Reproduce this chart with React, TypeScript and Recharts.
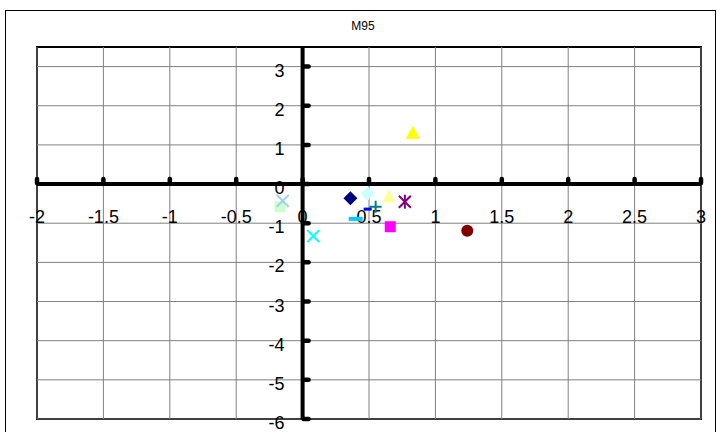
import React from "react"
import { ScatterChart, Scatter, XAxis, YAxis, ReferenceLine, ReferenceArea } from "recharts"

// Axis ticks
const xTicks = [-2, -1.5, -1, -0.5, 0, 0.5, 1, 1.5, 2, 2.5, 3]
const yTicks = [-6, -5, -4, -3, -2, -1, 0, 1, 2, 3]

// 13 series, one point each
const seriesNames = ["S1", "S2", "S3", "S4", "S5", "S6", "S7", "S8", "S9", "S10", "S11", "S12", "S13"]
const seriesX = [0.36, 0.66, 0.83, 0.08, 0.77, 1.24, 0.55, 0.49, 0.4, 0.49, -0.17, 0.65, -0.15]
const seriesY = [-0.36, -1.09, 1.31, -1.33, -0.45, -1.19, -0.58, -0.64, -0.89, -0.24, -0.58, -0.31, -0.43]

// Excel-ish default marker styles
const markerColors = ["#000080", "#FF00FF", "#FFFF00", "#00FFFF", "#800080", "#800000", "#008080", "#0000FF", "#00CCFF", "#CCFFFF", "#CCFFCC", "#FFFF99", "#99CCFF"]
const markerKinds = ["diamond", "square", "triangle", "x", "star", "circle", "plus", "shortdash", "dash", "diamond", "square", "triangle", "x"]

const FONT = "'Liberation Sans', Arial, sans-serif"

function Marker({ cx, cy, kind, color }: { cx: number; cy: number; kind: string; color: string }) {
  switch (kind) {
    case "diamond":
      return <polygon points={`${cx},${cy - 7} ${cx + 7},${cy} ${cx},${cy + 7} ${cx - 7},${cy}`} fill={color} />
    case "square":
      return <rect x={cx - 5.5} y={cy - 5.5} width={11} height={11} fill={color} />
    case "triangle":
      return <polygon points={`${cx},${cy - 7} ${cx + 7},${cy + 6} ${cx - 7},${cy + 6}`} fill={color} />
    case "x":
      return (
        <g stroke={color} strokeWidth={2}>
          <line x1={cx - 6} y1={cy - 6} x2={cx + 6} y2={cy + 6} />
          <line x1={cx - 6} y1={cy + 6} x2={cx + 6} y2={cy - 6} />
        </g>
      )
    case "star":
      return (
        <g stroke={color} strokeWidth={2}>
          <line x1={cx - 6} y1={cy - 6} x2={cx + 6} y2={cy + 6} />
          <line x1={cx - 6} y1={cy + 6} x2={cx + 6} y2={cy - 6} />
          <line x1={cx} y1={cy - 7} x2={cx} y2={cy + 7} />
        </g>
      )
    case "circle":
      return <circle cx={cx} cy={cy} r={6} fill={color} />
    case "plus":
      return (
        <g stroke={color} strokeWidth={2}>
          <line x1={cx - 6} y1={cy} x2={cx + 6} y2={cy} />
          <line x1={cx} y1={cy - 6} x2={cx} y2={cy + 6} />
        </g>
      )
    case "shortdash":
      return <rect x={cx - 4} y={cy - 1.5} width={8} height={3} fill={color} />
    case "dash":
      return <rect x={cx - 7} y={cy - 2} width={14} height={4} fill={color} />
    default:
      return null
  }
}

const fmt = (v: number) => String(v)

// tick marks + labels sitting on the zero axes
const XTickMark = (props: any) => {
  const { cx, cy, payload } = props
  return (
    <g>
      <line x1={cx} y1={cy - 1} x2={cx} y2={cy - 5} stroke="#000" strokeWidth={4.5} strokeLinecap="round" />
      <text x={cx} y={cy + 39} textAnchor="middle" fontSize={18} fontFamily={FONT} fill="#000">
        {fmt(payload.x)}
      </text>
    </g>
  )
}

const YTickMark = (props: any) => {
  const { cx, cy, payload } = props
  return (
    <g>
      <line x1={cx + 1} y1={cy} x2={cx + 6} y2={cy} stroke="#000" strokeWidth={4.5} strokeLinecap="round" />
      <text x={cx - 18} y={cy + 10} textAnchor="end" fontSize={18} fontFamily={FONT} fill="#000">
        {fmt(payload.y)}
      </text>
    </g>
  )
}

export default function App() {
  const xTickPts = xTicks.map((v) => ({ x: v, y: 0 }))
  const yTickPts = yTicks.map((v) => ({ x: 0, y: v }))

  return (
    <div style={{ position: "absolute", left: 0, top: 0, width: 720, height: 432, overflow: "hidden", background: "#fff" }}>
      <div style={{ position: "absolute", left: 5, top: 10, width: 711, height: 440, border: "1px solid #000", boxSizing: "border-box" }} />
      <div
        style={{
          position: "absolute",
          left: 313,
          top: 19,
          width: 100,
          textAlign: "center",
          fontFamily: FONT,
          fontSize: 12,
          lineHeight: "14px",
        }}
      >
        M95
      </div>
      <div style={{ position: "absolute", left: 0, top: 0 }}>
        <ScatterChart width={720} height={432} margin={{ top: 47, right: 19, bottom: 13, left: 37 }}>
          <XAxis
            type="number"
            dataKey="x"
            domain={[-2, 3]}
            ticks={xTicks}
            tick={false}
            tickLine={false}
            axisLine={false}
            height={0}
          />
          <YAxis
            type="number"
            dataKey="y"
            domain={[-6, 3.5]}
            ticks={yTicks}
            tick={false}
            tickLine={false}
            axisLine={false}
            width={0}
          />
          {xTicks.map((v) => (
            <ReferenceLine key={`gx${v}`} x={v} stroke="#808080" strokeWidth={1} />
          ))}
          {yTicks.map((v) => (
            <ReferenceLine key={`gy${v}`} y={v} stroke="#808080" strokeWidth={1} />
          ))}
          <ReferenceArea x1={-2} x2={3} y1={-6} y2={3.5} fill="none" stroke="#000" strokeWidth={2} />
          <ReferenceLine y={0} stroke="#000" strokeWidth={4} />
          <ReferenceLine x={0} stroke="#000" strokeWidth={4} />
          <Scatter data={xTickPts} isAnimationActive={false} shape={XTickMark} />
          <Scatter data={yTickPts} isAnimationActive={false} shape={YTickMark} />
          {seriesNames.map((name, i) => (
            <Scatter
              key={name}
              name={name}
              data={[{ x: seriesX[i], y: seriesY[i] }]}
              isAnimationActive={false}
              shape={(p: any) => <Marker cx={p.cx} cy={p.cy} kind={markerKinds[i]} color={markerColors[i]} />}
            />
          ))}
        </ScatterChart>
      </div>
    </div>
  )
}
